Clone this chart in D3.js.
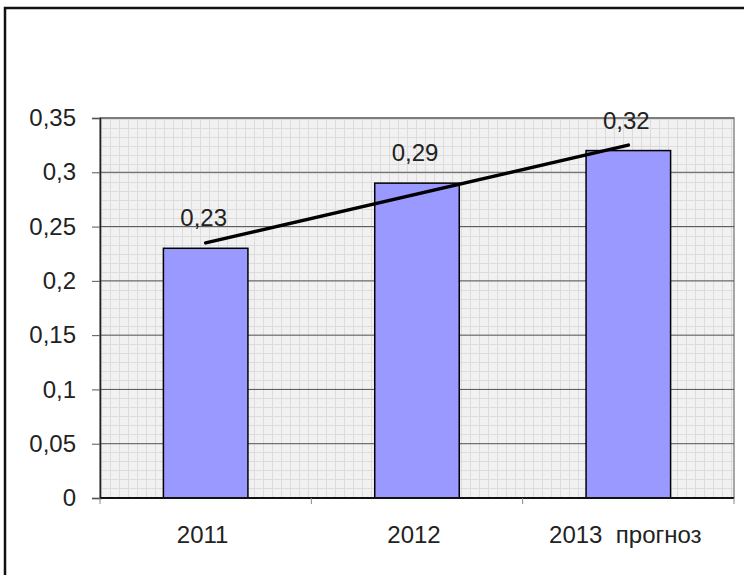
<!DOCTYPE html>
<html>
<head>
  <meta charset="utf-8">
  <title>2011-2013 прогноз</title>
  <style>
    body { margin: 0; background: #fff; }
    #chart { font-family: "Liberation Sans", Arial, sans-serif; }
    .bar { fill: #9999ff; stroke: #000; stroke-width: 1.5; }
    .axis text { font-size: 24px; fill: #222; }
    .label { font-size: 24px; fill: #222; }
  </style>
</head>
<body>
  <div id="chart"></div>

  <script src="https://d3js.org/d3.v7.min.js"></script>
  <script>
    // chart data
    const categories = ["2011", "2012", "2013  прогноз"];
    const values = [0.23, 0.29, 0.32];
    const labels = ["0,23", "0,29", "0,32"];
    const yTicks = [0, 0.05, 0.1, 0.15, 0.2, 0.25, 0.3, 0.35];
    const yTickLabels = ["0", "0,05", "0,1", "0,15", "0,2", "0,25", "0,3", "0,35"];

    const W = 744, H = 575;
    const margin = { top: 118, right: 10, bottom: 77, left: 100 };
    const width = W - margin.left - margin.right;
    const height = H - margin.top - margin.bottom;

    const root = d3.select("#chart").append("svg")
      .attr("width", W)
      .attr("height", H);

    // outer frame (runs off the right/bottom edge, as in the picture)
    root.append("rect")
      .attr("x", 5).attr("y", 8)
      .attr("width", W + 10).attr("height", H + 10)
      .attr("fill", "none")
      .attr("stroke", "#111")
      .attr("stroke-width", 2.5);

    // small-grid fill of the plot area
    const defs = root.append("defs");
    const pat = defs.append("pattern")
      .attr("id", "minor")
      .attr("width", 9).attr("height", 9)
      .attr("patternUnits", "userSpaceOnUse")
      .attr("x", margin.left).attr("y", margin.top);
    pat.append("rect").attr("width", 9).attr("height", 9).attr("fill", "#f1f1f1");
    pat.append("path")
      .attr("d", "M0,0.5H9M0.5,0V9")
      .attr("stroke", "#dcdcdc")
      .attr("stroke-width", 1);

    const svg = root.append("g")
      .attr("transform", "translate(" + margin.left + "," + margin.top + ")");

    const x = d3.scaleBand()
      .domain(categories)
      .range([0, width])
      .paddingInner(0.6)
      .paddingOuter(0.3);

    // band boundaries for the axis ticks
    const xb = d3.scaleBand().domain(categories).range([0, width]);

    const y = d3.scaleLinear()
      .domain([0, 0.35])
      .range([height, 0]);

    svg.append("rect")
      .attr("width", width)
      .attr("height", height)
      .attr("fill", "url(#minor)")
      .attr("stroke", "#8a8a8a")
      .attr("stroke-width", 1.5);

    // major gridlines
    svg.selectAll(".grid")
      .data(yTicks.slice(1))
      .enter().append("line")
      .attr("x1", 0).attr("x2", width)
      .attr("y1", d => y(d)).attr("y2", d => y(d))
      .attr("stroke", "#555")
      .attr("stroke-width", 1);

    // bars
    svg.selectAll(".bar")
      .data(values)
      .enter().append("rect")
      .attr("class", "bar")
      .attr("x", (d, i) => x(categories[i]))
      .attr("y", d => y(d))
      .attr("width", x.bandwidth())
      .attr("height", d => height - y(d));

    // linear trend line (least squares of the bar values)
    const n = values.length;
    const xs = d3.range(n);
    const mx = d3.mean(xs), my = d3.mean(values);
    const slope = d3.sum(xs, i => (i - mx) * (values[i] - my)) / d3.sum(xs, i => (i - mx) * (i - mx));
    const icpt = my - slope * mx;
    const cx = i => x(categories[i]) + x.bandwidth() / 2;
    svg.append("line")
      .attr("x1", cx(0)).attr("y1", y(icpt))
      .attr("x2", cx(n - 1)).attr("y2", y(icpt + slope * (n - 1)))
      .attr("stroke", "#000")
      .attr("stroke-width", 3.5)
      .attr("stroke-linecap", "round");

    // value labels
    svg.selectAll(".label")
      .data(values)
      .enter().append("text")
      .attr("class", "label")
      .attr("x", (d, i) => cx(i) - 2)
      .attr("y", d => y(d) - 22)
      .attr("text-anchor", "middle")
      .text((d, i) => labels[i]);

    // y axis
    const yAxis = svg.append("g")
      .attr("class", "axis")
      .call(d3.axisLeft(y).tickValues(yTicks).tickFormat((d, i) => yTickLabels[i]).tickSize(8).tickPadding(16));
    yAxis.select(".domain").attr("stroke", "#222").attr("stroke-width", 1.5);
    yAxis.selectAll(".tick line").attr("stroke", "#555");

    // x axis
    const xAxis = svg.append("g")
      .attr("class", "axis")
      .attr("transform", "translate(0," + height + ")");
    xAxis.append("line")
      .attr("x1", 0).attr("x2", width)
      .attr("stroke", "#111").attr("stroke-width", 2);
    xAxis.selectAll(".xtick")
      .data(categories)
      .enter().append("line")
      .attr("x1", d => xb(d) + xb.bandwidth()).attr("x2", d => xb(d) + xb.bandwidth())
      .attr("y1", 0).attr("y2", 6)
      .attr("stroke", "#888");
    xAxis.append("line")
      .attr("x1", 0).attr("x2", 0).attr("y1", 0).attr("y2", 6)
      .attr("stroke", "#888");
    xAxis.selectAll(".xlab")
      .data(categories)
      .enter().append("text")
      .attr("x", d => xb(d) + xb.bandwidth() / 2 - 3)
      .attr("y", 45)
      .attr("text-anchor", "middle")
      .style("white-space", "pre")
      .attr("xml:space", "preserve")
      .text(d => d);
  </script>
</body>
</html>
